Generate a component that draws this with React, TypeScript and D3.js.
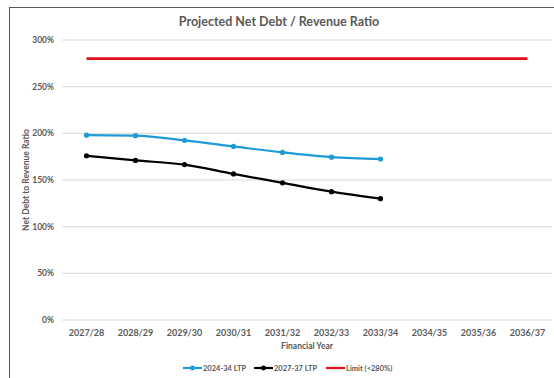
import React from "react";
import * as d3 from "d3";

const categories = ["2027/28", "2028/29", "2029/30", "2030/31", "2031/32", "2032/33", "2033/34", "2034/35", "2035/36", "2036/37"];
const ltp2024 = [198, 197.5, 192.5, 186, 179.5, 174.5, 172.5];
const ltp2027 = [176, 171, 166.5, 156.5, 147, 137.5, 130];
const limit = [280, 280, 280, 280, 280, 280, 280, 280, 280, 280];
const yTicks = [0, 50, 100, 150, 200, 250, 300];

const W = 554, H = 378;
const m = { left: 62, right: 552, top: 40, bottom: 320 };
const FONT = "Lato, 'Open Sans', sans-serif";
const TXT = "#595959";

export default function App() {
  const x = d3.scaleBand().domain(categories).range([m.left, m.right]);
  const y = d3.scaleLinear().domain([0, 300]).range([m.bottom, m.top]);
  const cx = (c: string) => (x(c) as number) + x.bandwidth() / 2;
  const line = d3.line<number>().x((_, i) => cx(categories[i])).y((d) => y(d)).curve(d3.curveMonotoneX);
  const series = [
    { name: "2024-34 LTP", vals: ltp2024, color: "#1e9ad6", markers: true, w: 2.2 },
    { name: "2027-37 LTP", vals: ltp2027, color: "#000000", markers: true, w: 2.2 },
    { name: "Limit (<280%)", vals: limit, color: "#e0101a", markers: false, w: 2.6 },
  ];
  const legendX = [183, 254, 326];
  return (
    <svg width={W} height={H} style={{ position: "absolute", left: 0, top: 0 }} fontFamily={FONT}>
      <rect x={0} y={0} width={W} height={H} fill="#fff" />
      <rect x={9.5} y={7.5} width={W + 10} height={H + 10} fill="none" stroke="#595959" strokeWidth={1} />
      <text x={279} y={26} textAnchor="middle" fontSize={12.5} fontWeight={700} fill={TXT}>Projected Net Debt / Revenue Ratio</text>
      {yTicks.map((t) => (
        <g key={t}>
          <line x1={m.left} x2={m.right} y1={y(t)} y2={y(t)} stroke="#d9d9d9" strokeWidth={1} />
          <text x={54} y={y(t) + 3} textAnchor="end" fontSize={8.5} fontWeight={700} fill={TXT}>{t + "%"}</text>
        </g>
      ))}
      {categories.map((c) => (
        <text key={c} x={cx(c)} y={336} textAnchor="middle" fontSize={9} fontWeight={700} fill={TXT}>{c}</text>
      ))}
      <text x={307} y={349} textAnchor="middle" fontSize={8.5} fontWeight={700} fill={TXT}>Financial Year</text>
      <text transform={`translate(29,${(m.top + m.bottom) / 2}) rotate(-90)`} textAnchor="middle" fontSize={8.5} fontWeight={700} fill={TXT}>Net Debt to Revenue Ratio</text>
      {series.map((s) => (
        <g key={s.name}>
          <path d={line(s.vals) || ""} fill="none" stroke={s.color} strokeWidth={s.w} />
          {s.markers && s.vals.map((v, i) => (
            <circle key={i} cx={cx(categories[i])} cy={y(v)} r={2.6} fill={s.color} />
          ))}
        </g>
      ))}
      {series.map((s, i) => (
        <g key={s.name} transform={`translate(${legendX[i]},368)`}>
          <line x1={0} x2={19} y1={0} y2={0} stroke={s.color} strokeWidth={2.2} />
          {s.markers && <circle cx={9.5} cy={0} r={2.4} fill={s.color} />}
          <text x={20} y={3} fontSize={7.5} fontWeight={700} fill={TXT}>{s.name}</text>
        </g>
      ))}
    </svg>
  );
}
